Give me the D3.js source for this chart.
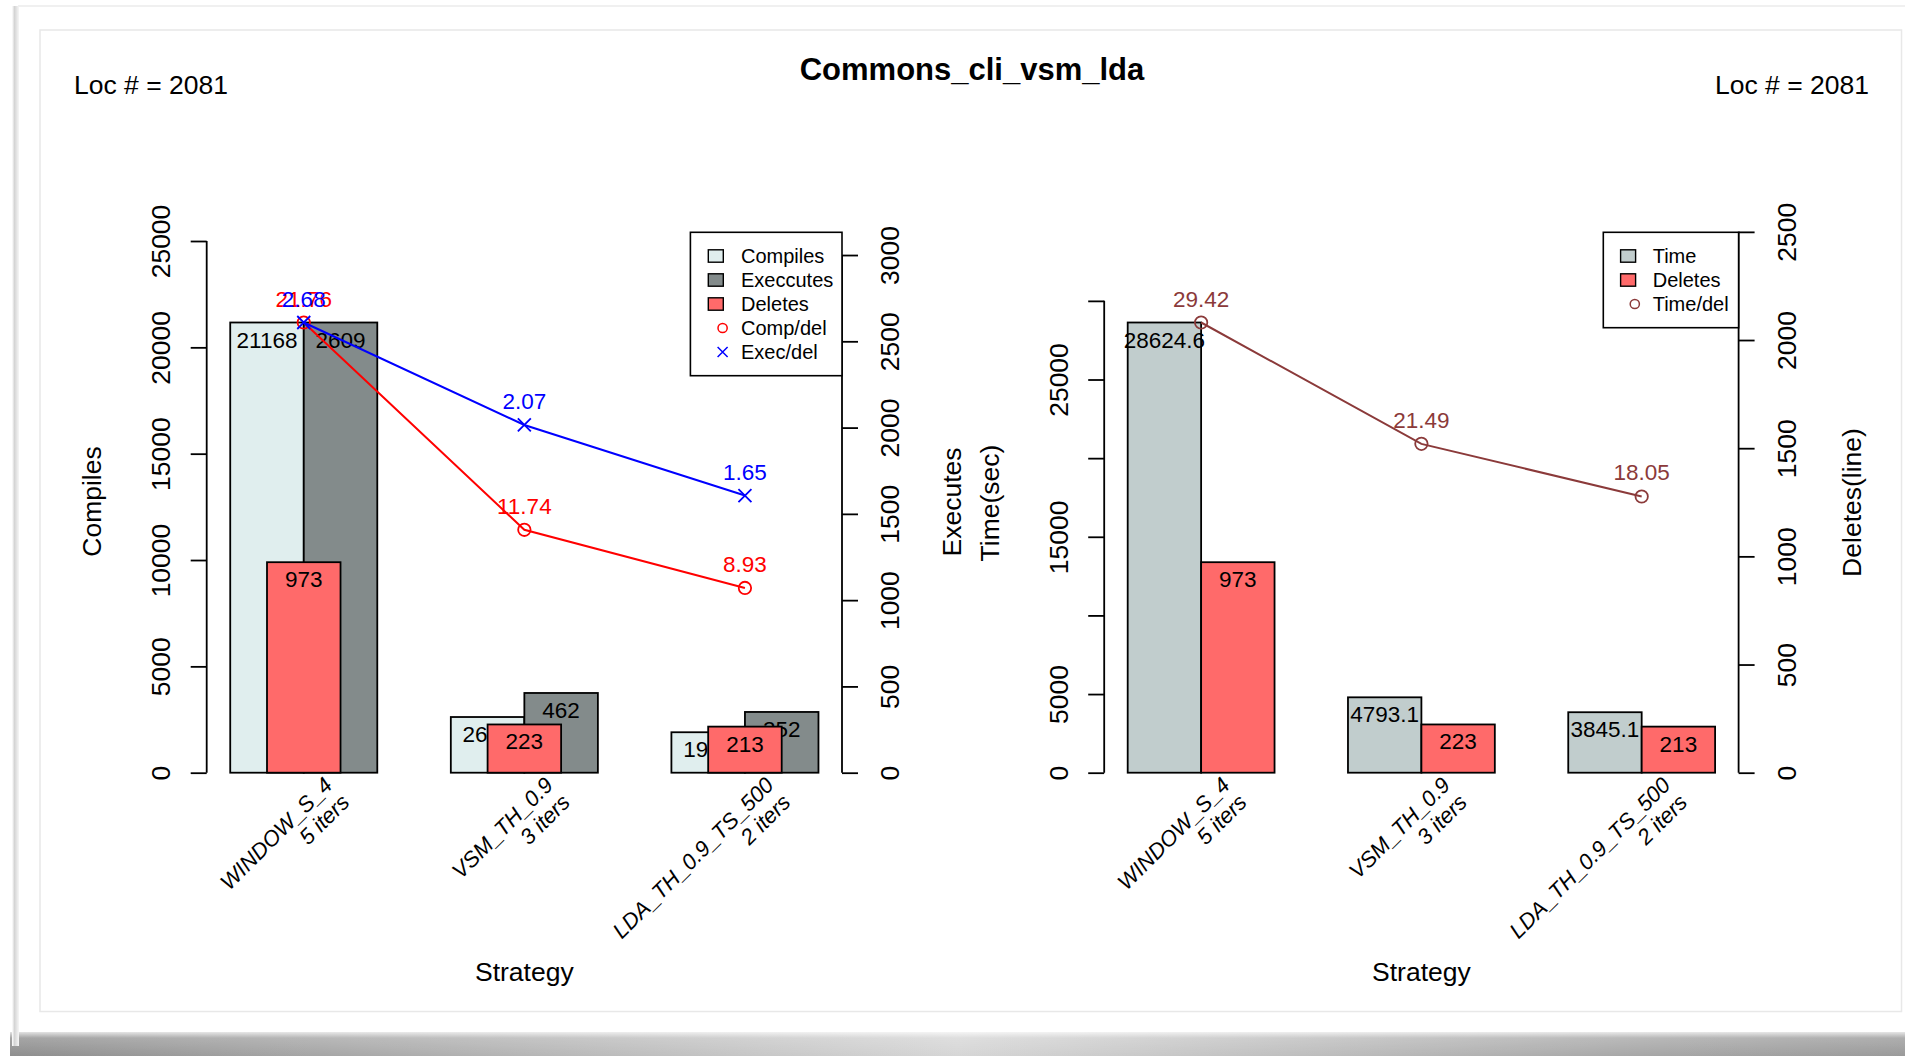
<!DOCTYPE html>
<html>
<head>
<meta charset="utf-8">
<script src="https://cdn.jsdelivr.net/npm/d3@7"></script>
<style>
  html, body { margin: 0; padding: 0; background: #ffffff; }
  svg { display: block; font-family: "Liberation Sans", Arial, Helvetica, sans-serif; }
</style>
</head>
<body>
<svg id="chart" width="1905" height="1056"></svg>
<script>
// ---- data ----
const strategies = [["WINDOW_S_4", "5 iters"], ["VSM_TH_0.9", "3 iters"], ["LDA_TH_0.9_TS_500", "2 iters"]];
const compiles = [21168, 2618, 1902];
const executes = [2609, 462, 352];
const deletes = [973, 223, 213];
const compPerDel = [21.76, 11.74, 8.93];
const execPerDel = [2.68, 2.07, 1.65];
const timeSec = [28624.6, 4793.1, 3845.1];
const timePerDel = [29.42, 21.49, 18.05];
const locCount = 2081;

const compilesTicks = [0, 5000, 10000, 15000, 20000, 25000];
const executesTicks = [0, 500, 1000, 1500, 2000, 2500, 3000];
const timeTicks = [0, 5000, 10000, 15000, 20000, 25000, 30000];
const timeTickLabels = [0, 5000, 15000, 25000];
const deletesTicks = [0, 500, 1000, 1500, 2000, 2500];

const leftLegend = [
  { label: "Compiles", kind: "box", color: "#E0EEEE" },
  { label: "Execcutes", kind: "box", color: "#838B8B" },
  { label: "Deletes", kind: "box", color: "#FF6A6A" },
  { label: "Comp/del", kind: "circle", color: "#FF0000" },
  { label: "Exec/del", kind: "cross", color: "#0000FF" }
];
const rightLegend = [
  { label: "Time", kind: "box", color: "#C1CDCD" },
  { label: "Deletes", kind: "box", color: "#FF6A6A" },
  { label: "Time/del", kind: "circle", color: "#8B3A3A" }
];

const COL = {
  compiles: "#E0EEEE", executes: "#838B8B", deletes: "#FF6A6A", time: "#C1CDCD",
  comp: "#FF0000", exec: "#0000FF", tdel: "#8B3A3A"
};

// ---- geometry ----
const baseY = 772.7;   // zero line
const peakY = 322.5;   // height every series' reference value reaches
const plotTop = 232.3;
const fs = 26.5, fsVal = 22.5, fsCat = 22, fsLeg = 20;

const svg = d3.select("#chart");

// ---- page frame ----
const defs = svg.append("defs");
const sh = defs.append("linearGradient").attr("id", "shadowH").attr("x1", 0).attr("x2", 1).attr("y1", 0).attr("y2", 0);
[[0, "#8e8e8e"], [0.15, "#a4a4a4"], [0.5, "#d6d6d6"], [0.85, "#a8a8a8"], [1, "#9a9a9a"]]
  .forEach(([o, c]) => sh.append("stop").attr("offset", o).attr("stop-color", c));
const sv = defs.append("linearGradient").attr("id", "shadowV").attr("x1", 0).attr("x2", 0).attr("y1", 0).attr("y2", 1);
[[0, "#ffffff", 0.75], [0.25, "#ffffff", 0.2], [1, "#ffffff", 0]]
  .forEach(([o, c, a]) => sv.append("stop").attr("offset", o).attr("stop-color", c).attr("stop-opacity", a));
const se = defs.append("linearGradient").attr("id", "edgeL").attr("x1", 0).attr("x2", 1).attr("y1", 0).attr("y2", 0);
[[0, "#ffffff"], [0.35, "#d4d4d4"], [1, "#f6f6f6"]]
  .forEach(([o, c]) => se.append("stop").attr("offset", o).attr("stop-color", c));

svg.append("rect").attr("x", 10).attr("y", 1032).attr("width", 1895).attr("height", 24).attr("fill", "url(#shadowH)");
svg.append("rect").attr("x", 10).attr("y", 1032).attr("width", 1895).attr("height", 24).attr("fill", "url(#shadowV)");
svg.append("rect").attr("x", 12).attr("y", 6).attr("width", 7).attr("height", 1040).attr("fill", "url(#edgeL)");
svg.append("line").attr("x1", 18).attr("x2", 1905).attr("y1", 6).attr("y2", 6).attr("stroke", "#f0f0f0").attr("stroke-width", 2);
svg.append("rect").attr("x", 40).attr("y", 30).attr("width", 1861.5).attr("height", 981.5)
  .attr("fill", "#ffffff").attr("stroke", "#e8e8e8").attr("stroke-width", 1.5);

// ---- header ----
svg.append("text").attr("x", 972).attr("y", 80).attr("text-anchor", "middle")
  .attr("font-size", 31).attr("font-weight", "bold").text("Commons_cli_vsm_lda");
svg.append("text").attr("x", 74).attr("y", 94.3).attr("font-size", fs).text(`Loc # = ${locCount}`);
svg.append("text").attr("x", 1869).attr("y", 94.3).attr("text-anchor", "end").attr("font-size", fs).text(`Loc # = ${locCount}`);

// ---- helpers ----
const peakScale = ref => d3.scaleLinear().domain([0, ref]).range([baseY, peakY]);
const pos = i => 2 + 3 * i;   // bar-group centre in bar units

function yAxis(g, scale, ticks, side, labelSet) {
  const axis = (side === "left" ? d3.axisLeft(scale) : d3.axisRight(scale))
    .tickValues(ticks).tickSize(16)
    .tickFormat(v => (labelSet && !labelSet.includes(v)) ? "" : d3.format("d")(v));
  g.call(axis);
  g.select(".domain").attr("d", `M0,${scale(ticks[ticks.length - 1])}V${scale(ticks[0])}`)
    .attr("stroke", "#000").attr("stroke-width", 1.8);
  g.selectAll(".tick line").attr("stroke", "#000").attr("stroke-width", 1.8);
  g.attr("font-family", null).attr("font-size", null);
  g.selectAll(".tick text")
    .attr("fill", "#000").attr("font-size", fs)
    .attr("x", 0).attr("dy", null)
    .attr("y", side === "left" ? -36.7 : 57)
    .attr("transform", "rotate(-90)")
    .attr("text-anchor", "middle");
}

function bars(g, x, y, values, x0, w, color) {
  g.selectAll(null).data(values).join("rect")
    .attr("x", (d, i) => x(x0 + 3 * i)).attr("width", (d, i) => x(x0 + 3 * i + w) - x(x0 + 3 * i))
    .attr("y", d => y(d)).attr("height", d => baseY - y(d))
    .attr("fill", color).attr("stroke", "#000").attr("stroke-width", 1.8);
}
function barLabels(g, x, y, values, xc) {
  g.selectAll(null).data(values).join("text")
    .attr("x", (d, i) => x(xc + 3 * i)).attr("y", d => y(d) + 25)
    .attr("text-anchor", "middle").attr("font-size", fsVal).attr("fill", "#000")
    .text(d => d);
}
function series(g, x, y, values, color, marker) {
  const line = d3.line().x((d, i) => x(pos(i))).y(d => y(d));
  g.append("path").datum(values).attr("d", line).attr("fill", "none")
    .attr("stroke", color).attr("stroke-width", 2);
  const pts = g.selectAll(null).data(values).join("g")
    .attr("transform", (d, i) => `translate(${x(pos(i))},${y(d)})`);
  if (marker === "circle") {
    pts.append("circle").attr("r", 6.2).attr("fill", "none").attr("stroke", color).attr("stroke-width", 1.8);
  } else {
    pts.append("path").attr("d", "M-6.5,-6.5L6.5,6.5M-6.5,6.5L6.5,-6.5")
      .attr("stroke", color).attr("stroke-width", 1.8);
  }
  g.selectAll(null).data(values).join("text")
    .attr("x", (d, i) => x(pos(i))).attr("y", d => y(d) - 16)
    .attr("text-anchor", "middle").attr("font-size", fsVal).attr("fill", color)
    .text(d => d3.format(".2f")(d));
}
function categoryLabels(g, x) {
  const t = g.selectAll(null).data(strategies).join("text")
    .attr("transform", (d, i) => `translate(${x(pos(i)) + 30},${baseY + 14}) rotate(-45)`)
    .attr("text-anchor", "end").attr("font-size", fsCat).attr("font-style", "italic");
  t.append("tspan").attr("x", 0).attr("dy", 0).text(d => d[0]);
  t.append("tspan").attr("x", 0).attr("dy", 24).text(d => d[1]);
}
function legend(g, items, x0, x1, yTop, boxX, symX, textX) {
  const rowH = 24, firstY = yTop + 23.7;
  g.append("rect").attr("x", x0).attr("y", yTop).attr("width", x1 - x0)
    .attr("height", items.length * rowH + 23.4)
    .attr("fill", "#fff").attr("stroke", "#000").attr("stroke-width", 1.6);
  items.forEach((it, i) => {
    const cy = firstY + i * rowH;
    if (it.kind === "box") {
      g.append("rect").attr("x", boxX).attr("y", cy - 6.2).attr("width", 15).attr("height", 12.4)
        .attr("fill", it.color).attr("stroke", "#000").attr("stroke-width", 1.4);
    } else if (it.kind === "circle") {
      g.append("circle").attr("cx", symX).attr("cy", cy).attr("r", 4.6)
        .attr("fill", "none").attr("stroke", it.color).attr("stroke-width", 1.5);
    } else {
      g.append("path").attr("d", `M${symX - 5},${cy - 5}L${symX + 5},${cy + 5}M${symX - 5},${cy + 5}L${symX + 5},${cy - 5}`)
        .attr("stroke", it.color).attr("stroke-width", 1.5);
    }
    g.append("text").attr("x", textX).attr("y", cy + 7).attr("font-size", fsLeg).text(it.label);
  });
}
function axisTitle(g, text, x, y) {
  g.append("text").attr("transform", `translate(${x},${y}) rotate(-90)`)
    .attr("text-anchor", "middle").attr("font-size", fs).text(text);
}

// ---- left panel: compiles / executes / deletes ----
{
  const g = svg.append("g");
  const x = d3.scaleLinear().domain([0.68, 9.32]).range([206.7, 842]);
  const yComp = peakScale(d3.max(compiles));
  const yExec = peakScale(d3.max(executes));
  const yDel = peakScale(locCount);
  const yCpd = peakScale(d3.max(compPerDel));
  const yEpd = peakScale(d3.max(execPerDel));

  bars(g, x, yComp, compiles, 1, 1, COL.compiles);
  bars(g, x, yExec, executes, 2, 1, COL.executes);
  barLabels(g, x, yComp, compiles, 1.5);
  barLabels(g, x, yExec, executes, 2.5);
  bars(g, x, yDel, deletes, 1.5, 1, COL.deletes);
  barLabels(g, x, yDel, deletes, 2);

  series(g, x, yCpd, compPerDel, COL.comp, "circle");
  series(g, x, yEpd, execPerDel, COL.exec, "cross");

  yAxis(g.append("g").attr("transform", "translate(206.7,0)"), yComp, compilesTicks, "left");
  yAxis(g.append("g").attr("transform", "translate(842,0)"), yExec, executesTicks, "right");

  legend(g, leftLegend, 690.4, 842, plotTop, 708.3, 722.6, 741);
  categoryLabels(g, x);

  axisTitle(g, "Compiles", 101, 501.5);
  axisTitle(g, "Executes", 961, 502);
  g.append("text").attr("x", (206.7 + 842) / 2).attr("y", 980.7).attr("text-anchor", "middle")
    .attr("font-size", fs).text("Strategy");
}

// ---- right panel: time / deletes ----
{
  const g = svg.append("g");
  const x = d3.scaleLinear().domain([0.68, 9.32]).range([1104.2, 1738.6]);
  const yTime = peakScale(d3.max(timeSec));
  const yDel = peakScale(locCount);
  const yTpd = peakScale(d3.max(timePerDel));

  bars(g, x, yTime, timeSec, 1, 1, COL.time);
  bars(g, x, yDel, deletes, 2, 1, COL.deletes);
  barLabels(g, x, yTime, timeSec, 1.5);
  barLabels(g, x, yDel, deletes, 2.5);

  series(g, x, yTpd, timePerDel, COL.tdel, "circle");

  yAxis(g.append("g").attr("transform", "translate(1104.2,0)"), yTime, timeTicks, "left", timeTickLabels);
  yAxis(g.append("g").attr("transform", "translate(1738.6,0)"), yDel, deletesTicks, "right");

  legend(g, rightLegend, 1603.3, 1738.6, plotTop, 1620.6, 1634.8, 1652.7);
  categoryLabels(g, x);

  axisTitle(g, "Time(sec)", 998.5, 503);
  axisTitle(g, "Deletes(line)", 1861, 502.5);
  g.append("text").attr("x", (1104.2 + 1738.6) / 2).attr("y", 980.7).attr("text-anchor", "middle")
    .attr("font-size", fs).text("Strategy");
}
</script>
</body>
</html>
